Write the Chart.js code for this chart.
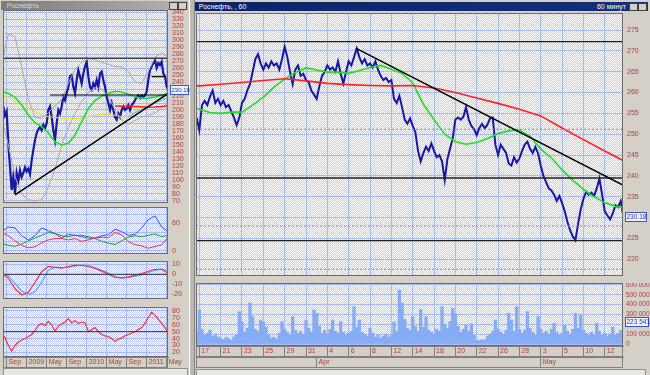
<!DOCTYPE html>
<html><head><meta charset="utf-8">
<script src="https://cdn.jsdelivr.net/npm/chart.js@4.4.1/dist/chart.umd.min.js"></script>
<style>
body{margin:0;width:650px;height:375px;background:#d4d0c8;position:relative;overflow:hidden;font-family:"Liberation Sans",Arial,sans-serif;}
canvas{position:absolute;}
.tb{position:absolute;height:9px;font-size:7px;line-height:9px;color:#fff;white-space:nowrap;overflow:hidden;}
.btn{position:absolute;top:1px;width:7px;height:6px;background:#d4d0c8;border:1px solid #404040;}
.sb{position:absolute;height:6px;background:#e8e6e2;border:1px solid #909090;}
</style></head><body>
<div class="tb" style="left:1px;top:1px;width:187px;background:linear-gradient(90deg,#7c7c7c,#b4b4b4);color:#d8d6d0;">&nbsp;&nbsp;&nbsp;Роснефть<span class="btn" style="right:10px"></span><span class="btn" style="right:1px"></span></div>
<div class="tb" style="left:193px;top:2px;width:455px;background:linear-gradient(90deg,#0a246a,#14307a);">&nbsp;&nbsp;&nbsp;Роснефть, , 60<span style="position:absolute;right:22px">60 минут</span><span class="btn" style="right:10px"></span><span class="btn" style="right:1px"></span></div>
<div style="position:absolute;left:189px;top:0;width:4px;height:375px;background:#bcb8b0;border-left:1px solid #fff;border-right:1px solid #808080;"></div>
<div class="sb" style="left:3px;top:368px;width:183px;"></div>
<div class="sb" style="left:196px;top:369px;width:448px;"></div>
<canvas id="lp" style="left:3px;top:10px" width="187" height="193"></canvas>
<canvas id="l2" style="left:3px;top:207px" width="187" height="47"></canvas>
<canvas id="l3" style="left:3px;top:261px" width="187" height="38"></canvas>
<canvas id="l4" style="left:3px;top:307px" width="187" height="61"></canvas>
<canvas id="rp" style="left:196px;top:13px" width="454" height="263"></canvas>
<canvas id="rv" style="left:196px;top:283px" width="454" height="85"></canvas>
<script>
// ---------------- DATA ----------------
// Right chart (hourly, Mar 17 - May 13 2011), x = trading day index (0 = Mar 17)
const rightDayTicks = [0,2,4,6,8,10,12,14,16,18,20,22,24,26,28,30,32,34,36,38];
const rightDayLabels = ['17','21','23','25','29','31','4','6','8','12','14','18','20','22','26','28','3','5','10','12'];
const rightMonthTicks = [11,32];
const rightMonthLabels = ['Apr','May'];
const rightPriceTicks = [220,225,230,235,240,245,250,255,260,265,270,275];
const volumeTicks = [0,100000,200000,300000,400000,500000,600000];
// closes, one every quarter of a trading day starting at day -0.25
const priceH = [254,251,257,258,257,259,260.5,257.5,258.5,257,258,256.5,257,255.5,254,252.2,254,257.5,258.5,260.5,
 262,265,268,269.2,267,265.5,267,266,267.5,266.5,267,265.5,268,271,268.5,265,262,265.5,266.5,264,
 264.5,263,262.5,260.5,259.5,258.5,261.5,264,265,266.5,265.5,266,265,267.5,264.5,262.2,265,267.5,266.5,268.5,
 270.6,268.5,267,268,266.5,267,266,267.5,265.5,264,263,263.5,262.5,263,258.5,257.5,259.2,256.5,253.5,252.5,
 253.8,252,250.5,246,243.5,245.5,247,246,247.8,246,244.5,245,243.5,239,244,246.5,249,253.5,254,253.5,
 254.2,256.5,253.5,252,251.2,249.8,251.5,252.5,251.4,252.3,253.8,254,247.5,245,247.5,246.5,245.5,243,242.5,244.5,
 243.2,244.2,246,247.5,248.2,246.5,245.5,247,245.4,242.5,240,238.5,237,236.5,235.5,234,235.2,233.5,231.5,229,
 227,225.5,224.6,228.5,232,234.5,236.2,235.5,236,235.2,237,239.4,235.5,231.5,230.5,229.6,231,233,232.5,234,230.2];
const volumeH = [120,346,150,90,110,142,80,100,70,60,45,70,55,40,75,90,328,224,120,160,
 417,278,150,130,244,224,170,90,60,70,50,110,227,150,120,90,278,140,110,130,
 100,244,160,120,346,312,180,110,140,100,150,244,130,110,227,120,90,110,130,380,
 170,244,120,100,80,160,110,70,90,60,80,100,70,90,227,130,549,417,250,160,
 140,278,180,130,350,170,278,140,120,100,150,130,380,200,160,230,363,312,180,120,
 150,190,130,207,90,40,35,45,40,80,100,130,244,150,120,100,140,312,244,130,
 380,150,110,140,329,160,120,90,278,150,110,130,100,150,210,120,90,110,190,130,
 100,150,312,160,295,140,110,90,120,100,210,130,90,110,80,100,170,90,110,140,90]; // thousands
const maFastDays = [-0.31,0,1,2,3,4,5,6,7,8,9,10,11,12,13,14,15,16,17,18,19,20,21,22,23,24,25,26,27,28,29,30,31,32,33,34,35,36,37,38,39,39.71];
const maFast = [256.2,256,255.2,255,255.3,255.3,257,258.9,261.3,263.3,264.8,265.9,265.4,264.9,264.9,264.6,265.3,266,266.5,265.6,264.6,
 262.3,257.2,253.5,250,248.2,247.6,248,249,250.2,250.8,251,249.5,246.5,244.3,241.5,239,236.8,235,233.6,232.7,232.4];
const maSlowDays = [-0.31,0,2,4,6,8,10,12,14,16,18,20,22,24,26,28,30,32,34,36,38,39.71];
const maSlow = [261.6,261.6,262,262.4,262.9,263.3,262.8,262.2,261.9,261.7,261.6,261.7,261.1,260,258.7,257.4,256,254.4,251.5,248.7,246,243.7];
const rightLevels = [272.2,239.5,224.5];
const rightDotLevels = [251.2,228,217.6];
const rightTrendDays = [14.7,39.7];
const rightTrend = [270.6,237.8];

// Left chart (weekly-ish, Aug 2008 - May 2011), x = months since Sep 2008
const leftMonthTicks = [0,4,8,12,16,20,24,28,32];
const leftMonthLabels = ['Sep','2009','May','Sep','2010','May','Sep','2011','May'];
const leftPriceTicks = [70,80,90,100,110,120,130,140,150,160,170,180,190,200,210,220,230,240,250,260,270,280,290,300,310,320,330,340];
const leftPrice = [205,192,198,152,119,86,105,80,110,98,114,104,110,118,112,116,108,128,143,157,
 167,172,176,171,179,174,181,200,205,190,171,157,181,200,195,205,219,214,224,233,
 248,250,233,224,243,257,248,238,252,262,269,248,233,229,238,233,243,233,252,255,
 243,233,219,210,200,210,200,190,186,195,190,200,205,200,202,207,200,207,210,214,
 219,221,217,221,219,221,226,243,257,262,267,271,260,267,264,269,252,248,233,229];
const leftMaGreen = [226.2,223.8,218.1,207.2,192.9,181.9,176.2,167.6,154.8,150,152.4,164.3,183.3,202.4,213.3,220,223.8,226.7,225.7,222.4,219,216.7,216.7,218.6,221,223.8];
const leftMaYellow = [221.4,218.1,213.3,208.6,203.8,197.6,192.9,190.5,189.5,188.1,187.6,187.6,188.1,190.5,192.4,193.8,193.8,192.4,190.5,192.9,197.6,202.4,207.2,211.9,216.7,221.4];
const leftBandUp = [268,308,305,262,215,190,188,196,206,215,238,258,268,273,272,268,265,262,262,255,240,238,255,275,282,275];
const leftBandLow = [190,150,105,80,72,70,72,90,115,150,175,195,212,225,232,230,220,200,186,180,185,190,192,196,202,212];
const leftMaRed = [null,null,null,null,null,null,null,null,null,null,null,null,null,null,null,null,null,205.8,205.5,205.2,205,204.5,204,204.3,205,205.7];
const leftMaBlue = [null,null,null,null,null,null,null,null,null,null,null,null,null,null,null,null,null,null,null,190,196,201,206,210,214,218];
const leftTop = 273.8;
const leftNeck = [8.66,31.99,221.4];
const leftShort = [28.99,31.66,247.6];
const leftTrend = [[1.66,78.6],[32.33,223.8]];
const adxBlue = [42,52,50,33,24,33,50,44,38,28,36,34,31,28,28,33,35,47,42,34,36,50,68,76,52,42];
const adxGreen = [17,12,10,15,22,28,34,40,38,33,31,34,34,31,27,21,17,14,22,30,33,31,34,37,31,34];
const adxRed = [40,33,22,12,7,9,18,24,27,27,24,27,21,24,28,30,29,40,35,20,14,11,6,10,13,30];
const macdRed = [1.5,-4,-14.5,-20.7,-18,-8,2.6,8,7,6.2,7.8,9.2,8.8,7.8,5.8,3.2,0,-3.2,-3.6,-2.6,-1,0.8,3,5,4.8,1];
const macdBlue = [0,-1.5,-9,-17,-20,-17.5,-8,4,7.2,6.8,6.8,8.5,9.3,8.6,6.8,4,1.2,-2,-3.8,-3,-1.8,-0.5,1.8,4,5.4,3];
const rsi = [47,41,30,22,30,35,38,40,43,46,52,59,62,59,65,60,51,58,61,64,69,63,66,62,64,63,50,53,56,50,
 46,44,43,40,36,39,41,44,46,48,50,53,56,62,71,78,74,68,62,56,46];

// ---------------- HELPERS ----------------
function grid(t0, dt, n){ const a=[]; for(let i=0;i<n;i++) a.push(t0+dt*i); return a; }
function pts(xs, ys){ return ys.map((y,i)=>({x:xs[i], y:y})); }
function hline(x0,x1,v){ return [{x:x0,y:v},{x:x1,y:v}]; }
const tPrice = grid(-0.673, 1/3, leftPrice.length);
const tInd = grid(-1.007, 4/3, 26);
const tRsi = grid(-1.007, 2/3, rsi.length);
const dPrice = grid(-0.25, 0.25, priceH.length);

const GRID = '#a9bbf3';
const LBL = '#b03a3a';
const FONT = {family:'"Liberation Sans", Arial, sans-serif', size:7};
const FONT6 = {family:'"Liberation Sans Narrow", "Liberation Sans", Arial, sans-serif', size:6.5};

const pc = document.createElement('canvas'); pc.width=2; pc.height=2;
const pctx = pc.getContext('2d');
pctx.fillStyle='#ffffff'; pctx.fillRect(0,0,2,2);
pctx.fillStyle='#c3cbf5'; pctx.fillRect(0,0,1,1); pctx.fillRect(1,1,1,1);

const framePlugin = {
  id:'frame',
  beforeDraw(c){ const a=c.chartArea, ctx=c.ctx; ctx.save(); ctx.fillStyle=ctx.createPattern(pc,'repeat'); ctx.fillRect(a.left,a.top,a.width,a.height); ctx.restore(); },
  afterDraw(c, args, opts){
    const a=c.chartArea, ctx=c.ctx; ctx.save();
    ctx.strokeStyle='#6c6c6c'; ctx.lineWidth=1; ctx.strokeRect(a.left+0.5,a.top+0.5,a.width-1,a.height-1);
    Object.values(c.scales).forEach(s=>{ if(s.options.bandBox){ ctx.strokeStyle='#808080'; ctx.strokeRect(s.left+0.5,s.top+0.5,s.width-1,s.height-1);} });
    if(opts && opts.box){
      const y=Math.round(c.scales.y.getPixelForValue(opts.box.value));
      const x=a.right+(opts.box.dx||2), w=opts.box.w||25;
      ctx.fillStyle='#eef0ff'; ctx.fillRect(x,y-5,w,10);
      ctx.strokeStyle='#3a56c8'; ctx.strokeRect(x+0.5,y-4.5,w-1,9);
      ctx.fillStyle='#2a3c9c'; ctx.font=(opts.box.fs||6.5)+'px "Liberation Sans Narrow", "Liberation Sans", Arial'; ctx.textBaseline='middle'; ctx.textAlign='left';
      ctx.fillText(opts.box.text, x+1.5, y+0.5);
    }
    ctx.restore();
  }
};
function fixY(w){ return s=>{ s.width=w; s.paddingTop=0; s.paddingBottom=0; }; }
function fixX(h){ return s=>{ s.height=h; s.paddingLeft=0; s.paddingRight=0; }; }
function setTicks(arr){ return s=>{ s.ticks = arr.map(v=>({value:v})); }; }

function line(data, color, w, extra){ return Object.assign({type:'line', data, borderColor:color, borderWidth:w, pointRadius:0, tension:0, spanGaps:false, fill:false}, extra||{}); }

function yAxis(min,max,ticks,w,cb,font,pad){
  return {position:'right', min, max, afterFit:fixY(w), afterBuildTicks:setTicks(ticks),
    ticks:{padding:pad==null?4:pad, color:LBL, font:font||FONT, autoSkip:false, callback: cb || (v=>String(v))},
    grid:{color:GRID, drawTicks:false, lineWidth:1}, border:{display:false}};
}
function xHidden(min,max,ticks){
  return {type:'linear', min, max, offset:false, afterFit:fixX(0), afterBuildTicks:setTicks(ticks),
    ticks:{display:false}, grid:{color:GRID, drawTicks:false, offset:false}, border:{display:false}};
}
function xBand(min,max,ticks,labels,weight,onArea){
  return {type:'linear', position:'bottom', weight, min, max, offset:false, bandBox:true, afterFit:fixX(11), afterBuildTicks:setTicks(ticks),
    ticks:{color:LBL, font:FONT, autoSkip:false, maxRotation:0, minRotation:0, align:'start', padding:-10,
      callback:(v,i)=>' '+labels[i]},
    grid:{color:GRID, offset:false, drawOnChartArea:onArea, drawTicks:true, tickLength:11, tickColor:'#808080'},
    border:{display:true, color:'#808080'}};
}
function baseOpts(scales, box){
  return {devicePixelRatio:1, responsive:false, animation:false, layout:{padding:0},
    plugins:{legend:{display:false}, tooltip:{enabled:false}, frame:{box}}, scales};
}
const LX0=-0.74, LX1=32.26, RX0=-0.31, RX1=39.71;

// ---------------- LEFT PRICE ----------------
new Chart(document.getElementById('lp'), {
  type:'line',
  data:{datasets:[
    line(pts(leftTrend.map(p=>p[0]), leftTrend.map(p=>p[1])), '#000000', 1.5),
    line(hline(LX0,LX1,leftTop), '#404040', 1.5),
    line(hline(leftNeck[0],leftNeck[1],leftNeck[2]), '#000000', 1.2),
    line(hline(leftShort[0],leftShort[1],leftShort[2]), '#000000', 1.2),
    line(pts(tInd,leftMaRed), '#ff2020', 1.5),
    line(pts(tInd,leftMaBlue), '#5aa0ff', 1),
    line(pts(tInd,leftMaGreen), '#22dd22', 1.6),
    line(pts(tInd,leftMaYellow), '#e6dc30', 1),
    line(pts(tInd,leftBandUp), '#a8a8b0', 1),
    line(pts(tInd,leftBandLow), '#a8a8b0', 1),
    line(pts(tPrice,leftPrice), '#1818a0', 2.2)
  ]},
  options: baseOpts({x:xHidden(LX0,LX1,leftMonthTicks), y:yAxis(67.14,342.86,leftPriceTicks,22)}, {value:leftPrice[leftPrice.length-1], text:'230.18', w:19, dx:0, fs:6}),
  plugins:[framePlugin]
});

// ---------------- LEFT ADX ----------------
new Chart(document.getElementById('l2'), {
  type:'line',
  data:{datasets:[
    line(pts(tInd,adxRed), '#ff3030', 1),
    line(pts(tInd,adxGreen), '#20a020', 1),
    line(pts(tInd,adxBlue), '#3a50ff', 1)
  ]},
  options: baseOpts({x:xHidden(LX0,LX1,leftMonthTicks), y:yAxis(-6.5,95.3,[0,20,40,60,80],22, v=>(v===0||v===60)?String(v):'')}),
  plugins:[framePlugin]
});

// ---------------- LEFT MACD ----------------
new Chart(document.getElementById('l3'), {
  type:'line',
  data:{datasets:[
    line(hline(LX0,LX1,0), '#303030', 1),
    line(pts(tInd,macdRed), '#ff3030', 1.2),
    line(pts(tInd,macdBlue), '#50a8ff', 1.2)
  ]},
  options: baseOpts({x:xHidden(LX0,LX1,leftMonthTicks), y:yAxis(-24.7,13.3,[-20,-10,0,10],22)}),
  plugins:[framePlugin]
});

// ---------------- LEFT RSI ----------------
new Chart(document.getElementById('l4'), {
  type:'line',
  data:{datasets:[
    line(hline(LX0,LX1,50), '#303030', 1),
    line(pts(tRsi,rsi), '#ff3030', 1.2)
  ]},
  options: baseOpts({x:xBand(LX0,LX1,leftMonthTicks,leftMonthLabels,0,true), y:yAxis(13.3,85.8,[20,30,40,50,60,70,80],22)}),
  plugins:[framePlugin]
});

// ---------------- RIGHT PRICE ----------------
new Chart(document.getElementById('rp'), {
  type:'line',
  data:{datasets:[
    line(pts(rightTrendDays,rightTrend), '#000000', 1.5),
    ...rightLevels.map(v=>line(hline(RX0,RX1,v), '#202020', 1.3)),
    ...rightDotLevels.map(v=>line(hline(RX0,RX1,v), '#8a8a9a', 1, {borderDash:[2,2]})),
    line(pts(maSlowDays,maSlow), '#ff2020', 1.6),
    line(pts(maFastDays,maFast), '#22dd22', 1.6),
    line(pts(dPrice,priceH), '#1818a8', 2)
  ]},
  options: baseOpts({x:xHidden(RX0,RX1,rightDayTicks), y:yAxis(216.0,279.08,rightPriceTicks,27)}, {value:priceH[priceH.length-1], text:'230.18', w:22}),
  plugins:[framePlugin]
});

// ---------------- RIGHT VOLUME ----------------
new Chart(document.getElementById('rv'), {
  type:'bar',
  data:{datasets:[{type:'bar', data:pts(dPrice, volumeH.map(v=>v*1000)), backgroundColor:'#86acf6', borderWidth:0, barPercentage:1, categoryPercentage:1, xAxisID:'x'}]},
  options: baseOpts({
    x:xBand(RX0,RX1,rightDayTicks,rightDayLabels,0,true),
    x2:xBand(RX0,RX1,rightMonthTicks,rightMonthLabels,1,false),
    y:yAxis(-20000,620000,volumeTicks,27, v=> v===0?'0':(v/1000)+' 000', FONT6, 3)
  }, {value:volumeH[volumeH.length-1]*1000+133000, text:'223 541', w:24}),
  plugins:[framePlugin]
});
</script>
</body></html>
